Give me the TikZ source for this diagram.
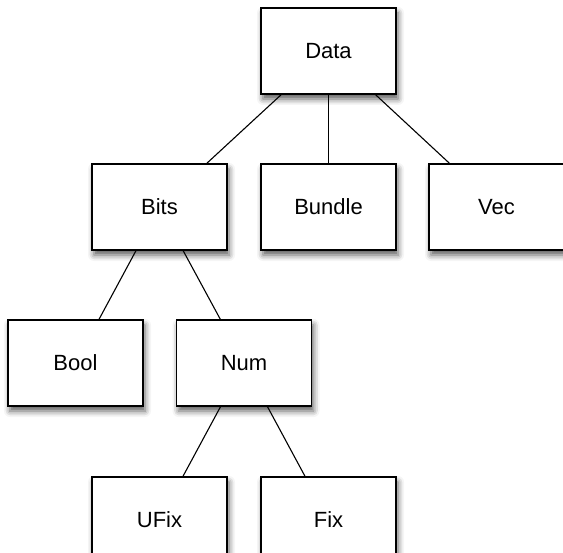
\documentclass[tikz,border=0pt]{standalone}
\usepackage{fontspec}
\setmainfont{Liberation Sans}
\usetikzlibrary{shadows.blur}
\begin{document}
\begin{tikzpicture}[x=1pt,y=-1pt,
  box/.style={draw=black, line width=1.6pt, fill=white, minimum width=135pt, minimum height=86pt,
    inner sep=0pt, font=\fontsize{22}{26}\selectfont,
    blur shadow={shadow xshift=2pt, shadow yshift=-5pt, shadow blur radius=6pt, shadow opacity=65}},
  link/.style={draw=black, line width=1.1pt}]
\useasboundingbox (0,0) rectangle (563,553);
\node[box] (data) at (328.5,51) {Data};
\node[box] (bits) at (159.5,207) {Bits};
\node[box] (bundle) at (328.5,207) {Bundle};
\node[box] (vec) at (496.5,207) {Vec};
\node[box] (bool) at (75.5,363) {Bool};
\node[box] (num) at (244,363) {Num};
\node[box] (ufix) at (159.5,520) {UFix};
\node[box] (fix) at (328.5,520) {Fix};
\draw[link] (data) -- (bits);
\draw[link] (data) -- (bundle);
\draw[link] (data) -- (vec);
\draw[link] (bits) -- (bool);
\draw[link] (bits) -- (num);
\draw[link] (num) -- (ufix);
\draw[link] (num) -- (fix);
\end{tikzpicture}
\end{document}
